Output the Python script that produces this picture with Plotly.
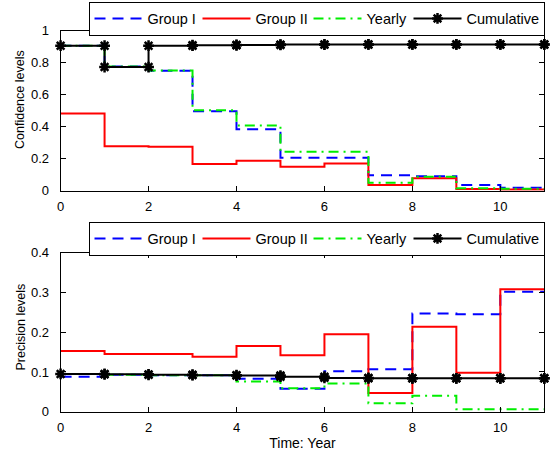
import plotly.graph_objects as go

years = list(range(12))
series_names = ["Group I", "Group II", "Yearly", "Cumulative"]

conf_group1 = [0.905, 0.775, 0.748, 0.496, 0.384, 0.205, 0.205, 0.096, 0.090, 0.035, 0.019, 0.019]
conf_group2 = [0.482, 0.278, 0.274, 0.166, 0.187, 0.149, 0.170, 0.035, 0.077, 0.011, 0.008, 0.008]
conf_yearly = [0.905, 0.775, 0.750, 0.502, 0.407, 0.243, 0.243, 0.050, 0.087, 0.015, 0.012, 0.012]
conf_cumul = [0.905, 0.772, 0.905, 0.908, 0.910, 0.912, 0.913, 0.913, 0.913, 0.913, 0.913, 0.913]

prec_group1 = [0.088, 0.093, 0.092, 0.092, 0.083, 0.058, 0.102, 0.107, 0.247, 0.245, 0.302, 0.302]
prec_group2 = [0.153, 0.145, 0.145, 0.138, 0.165, 0.142, 0.195, 0.047, 0.214, 0.098, 0.308, 0.308]
prec_yearly = [0.095, 0.093, 0.092, 0.092, 0.076, 0.059, 0.071, 0.021, 0.040, 0.006, 0.006, 0.006]
prec_cumul = [0.095, 0.094, 0.093, 0.092, 0.091, 0.088, 0.085, 0.084, 0.084, 0.084, 0.084, 0.084]

x_ticks = [0, 2, 4, 6, 8, 10]
conf_ticks = [0, 0.2, 0.4, 0.6, 0.8, 1]
prec_ticks = [0, 0.1, 0.2, 0.3, 0.4]

FONT = "Liberation Sans, Arial, sans-serif"
W, H = 554, 453

styles = {
    "Group I": dict(color="#0000ff", width=2, dash="11px,7px"),
    "Group II": dict(color="#ff0000", width=2, dash="solid"),
    "Yearly": dict(color="#00ee00", width=2, dash="10px,5px,2px,5px"),
    "Cumulative": dict(color="#000000", width=2, dash="solid"),
}
legend_widths = {"Group I": 45, "Group II": 48, "Yearly": 37, "Cumulative": 72}
star = dict(symbol="asterisk-open", size=9, color="black",
            line=dict(color="black", width=2.5))

fig = go.Figure()

panels = [
    ("x", "y", "legend", [conf_group1, conf_group2, conf_yearly, conf_cumul]),
    ("x2", "y2", "legend2", [prec_group1, prec_group2, prec_yearly, prec_cumul]),
]

for xa, ya, lg, data in panels:
    for name, vals in zip(series_names, data):
        is_cum = name == "Cumulative"
        fig.add_trace(go.Scatter(
            x=years, y=vals, name=name, xaxis=xa, yaxis=ya, legend=lg,
            mode="lines+markers" if is_cum else "lines",
            line=dict(shape="hv", **styles[name]),
            marker=star if is_cum else None,
            cliponaxis=False if is_cum else True,
            legendwidth=legend_widths[name],
        ))
        if is_cum:
            # markers at the other vertex of each stair step
            fig.add_trace(go.Scatter(
                x=years[1:], y=vals[:-1], xaxis=xa, yaxis=ya, mode="markers",
                marker=star, showlegend=False, cliponaxis=False, hoverinfo="skip",
            ))

x0, x1 = 60.6 / W, 544.3 / W
top_dom = [(H - 190.7) / H, (H - 30.5) / H]
bot_dom = [(H - 411.7) / H, (H - 252.7) / H]

axis_common = dict(
    showline=True, linecolor="black", linewidth=1, mirror="ticks",
    ticks="inside", ticklen=5, tickcolor="black", showgrid=False, zeroline=False,
    tickfont=dict(family=FONT, size=13, color="black"),
)

legend_common = dict(orientation="h", x=544.5 / W, xanchor="right", yanchor="top",
                     bgcolor="white", bordercolor="black", borderwidth=1, itemwidth=48,
                     font=dict(family=FONT, size=14.5), tracegroupgap=0, traceorder="normal")

fig.update_layout(
    width=W, height=H,
    margin=dict(l=0, r=0, t=0, b=0, autoexpand=False),
    paper_bgcolor="white", plot_bgcolor="white",
    font=dict(family=FONT, size=13, color="black"),
    showlegend=True,
    xaxis=dict(domain=[x0, x1], anchor="y", range=[0, 11], tickvals=x_ticks,
               ticklabelstandoff=4, **axis_common),
    yaxis=dict(domain=top_dom, anchor="x", range=[0, 1], tickvals=conf_ticks,
               ticktext=["0", "0.2", "0.4", "0.6", "0.8", "1"], ticklabelstandoff=8,
               **axis_common),
    xaxis2=dict(domain=[x0, x1], anchor="y2", range=[0, 11], tickvals=x_ticks,
                ticklabelstandoff=4,
                title=dict(text="Time: Year", font=dict(family=FONT, size=14), standoff=0),
                **axis_common),
    yaxis2=dict(domain=bot_dom, anchor="x2", range=[0, 0.4], tickvals=prec_ticks,
                ticktext=["0", "0.1", "0.2", "0.3", "0.4"], ticklabelstandoff=8,
                **axis_common),
    legend=dict(y=(H - 1.5) / H, **legend_common),
    legend2=dict(y=(H - 221.5) / H, **legend_common),
    annotations=[
        dict(text="Confidence levels", xref="paper", yref="paper", x=20 / W, y=(H - 100) / H,
             xanchor="center", yanchor="middle", textangle=-90, showarrow=False,
             font=dict(family=FONT, size=12.5, color="black")),
        dict(text="Precision levels", xref="paper", yref="paper", x=20 / W, y=(H - 327.5) / H,
             xanchor="center", yanchor="middle", textangle=-90, showarrow=False,
             font=dict(family=FONT, size=12.5, color="black")),
    ],
)

fig.write_html("out.html", config={"displayModeBar": False},
               post_script="document.body.style.margin='0px';")
